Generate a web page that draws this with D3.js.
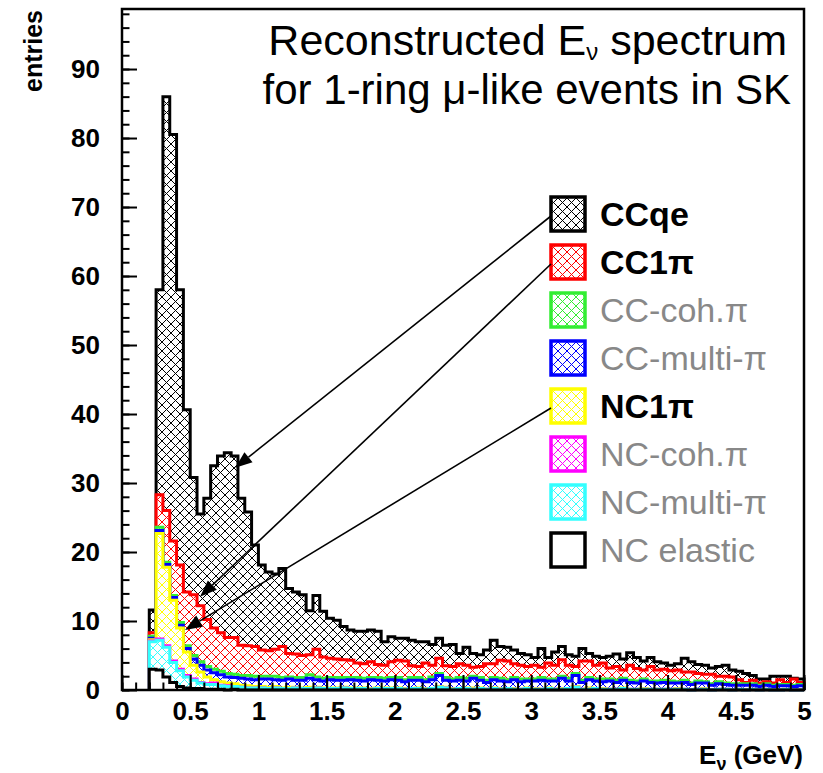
<!DOCTYPE html>
<html>
<head>
<meta charset="utf-8">
<script src="https://cdn.jsdelivr.net/npm/d3@7"></script>
<style>
  body { margin: 0; background: #fff; }
  text { font-family: "Liberation Sans", Arial, Helvetica, sans-serif; }
</style>
</head>
<body>
<svg id="chart" width="823" height="773"></svg>
<script>
// 0.05 GeV bins, first filled bin starts at 0.2 GeV (everything below is empty)
const binStart = 0.2;
const binWidth = 0.05;

// entries per bin for each interaction mode (bins 0.20-0.25 ... 4.95-5.00)
const ncElastic = [
  3.0, 2.9, 1.9, 1.1, 0.5, 0.3, 0.2, 0.2, 0.1, 0.1,
  0.1, 0, 0.1, 0, 0, 0, 0, 0, 0, 0,
  0, 0, 0, 0, 0, 0, 0, 0, 0, 0,
  0, 0, 0, 0, 0, 0, 0, 0, 0, 0,
  0, 0, 0, 0, 0, 0, 0, 0, 0, 0,
  0, 0, 0, 0, 0, 0, 0, 0, 0, 0,
  0, 0, 0, 0, 0, 0, 0, 0, 0, 0,
  0, 0, 0, 0, 0, 0, 0, 0, 0, 0,
  0, 0, 0, 0, 0, 0, 0, 0, 0, 0,
  0, 0, 0, 0, 0, 0
];
const ncMultiPi = [
  4.0, 4.3, 4.3, 2.9, 2.3, 1.6, 1.2, 0.8, 0.7, 0.7,
  0.5, 0.5, 0.4, 0.4, 0.3, 0.3, 0.3, 0.2, 0.3, 0.2,
  0.2, 0.3, 0.2, 0.2, 0.3, 0.2, 0.2, 0.2, 0.3, 0.2,
  0.2, 0.2, 0.1, 0.2, 0.2, 0.2, 0.2, 0.1, 0.2, 0.2,
  0.1, 0.2, 0.4, 0.3, 0.1, 0.2, 0.2, 0.1, 0.2, 0.1,
  0.2, 0.1, 0.2, 0.1, 0.1, 0.2, 0.1, 0.1, 0.2, 0.1,
  0.1, 0.2, 0.4, 0.1, 0.1, 0.2, 0.1, 0.1, 0.1, 0.2,
  0.1, 0.1, 0.1, 0.1, 0.1, 0.1, 0.1, 0.1, 0.1, 0,
  0.1, 0.1, 0, 0.1, 0.1, 0, 0.1, 0, 0.1, 0,
  0.1, 0, 0, 0.1, 0, 0
];
const ncCohPi = [
  0.1, 0.2, 0.2, 0.2, 0.2, 0.2, 0.2, 0.1, 0.1, 0.2,
  0.1, 0.1, 0, 0, 0, 0, 0, 0, 0, 0,
  0, 0, 0, 0, 0, 0, 0, 0, 0, 0,
  0, 0, 0, 0, 0, 0, 0, 0, 0, 0,
  0, 0, 0, 0, 0, 0, 0, 0, 0, 0,
  0, 0, 0, 0, 0, 0, 0, 0, 0, 0,
  0, 0, 0, 0, 0, 0, 0, 0, 0, 0,
  0, 0, 0, 0, 0, 0, 0, 0, 0, 0,
  0, 0, 0, 0, 0, 0, 0, 0, 0, 0,
  0, 0, 0, 0, 0, 0
];
const nc1Pi = [
  0.2, 15.3, 11.4, 8.8, 6.0, 3.4, 2.0, 1.5, 1.0, 0.5,
  0.5, 0.4, 0.4, 0.3, 0.3, 0.2, 0.2, 0.2, 0.2, 0.1,
  0.2, 0.1, 0.1, 0.2, 0.1, 0.1, 0.1, 0.1, 0.1, 0.1,
  0.1, 0.1, 0.1, 0.1, 0.1, 0.1, 0.1, 0.1, 0, 0.1,
  0.1, 0, 0.1, 0.1, 0.1, 0, 0.1, 0.2, 0.1, 0,
  0.1, 0.1, 0, 0.1, 0, 0.1, 0.1, 0, 0.1, 0,
  0.1, 0, 0.1, 0, 0.2, 0, 0.1, 0, 0, 0.1,
  0, 0, 0.1, 0, 0, 0, 0, 0.1, 0, 0,
  0, 0.1, 0, 0, 0, 0, 0, 0, 0, 0,
  0, 0, 0, 0, 0, 0
];
const ccMultiPi = [
  0.2, 0.4, 0.4, 0.4, 0.4, 0.5, 0.9, 1.0, 1.0, 1.0,
  1.0, 0.9, 0.9, 1.0, 1.0, 1.0, 1.1, 1.2, 1.0, 1.1,
  1.2, 1.0, 1.1, 1.3, 1.1, 1.0, 1.2, 1.1, 1.0, 1.2,
  1.1, 1.0, 1.3, 1.1, 1.0, 1.2, 1.1, 1.0, 1.2, 1.1,
  1.0, 1.3, 1.6, 1.0, 1.1, 1.2, 1.0, 1.4, 1.1, 1.0,
  1.2, 1.1, 1.0, 1.3, 1.1, 1.0, 1.1, 1.3, 1.0, 1.2,
  1.5, 1.1, 1.6, 1.0, 1.2, 1.1, 1.0, 1.2, 1.0, 1.1,
  1.0, 0.9, 1.1, 1.0, 0.9, 1.0, 0.9, 0.8, 1.0, 0.8,
  0.9, 0.8, 0.7, 0.8, 0.7, 0.7, 0.6, 0.7, 0.6, 0.5,
  0.6, 0.5, 0.6, 0.5, 0.5, 0.6
];
const ccCohPi = [
  0.3, 0.5, 0.3, 0.3, 0.4, 0.4, 0.5, 0.5, 0.5, 0.5,
  0.5, 0.5, 0.5, 0.4, 0.5, 0.5, 0.4, 0.4, 0.5, 0.4,
  0.3, 0.4, 0.4, 0.5, 0.4, 0.4, 0.3, 0.4, 0.4, 0.3,
  0.4, 0.4, 0.3, 0.4, 0.4, 0.3, 0.4, 0.3, 0.4, 0.4,
  0.3, 0.4, 0.3, 0.4, 0.3, 0.4, 0.4, 0.3, 0.4, 0.3,
  0.3, 0.4, 0.3, 0.3, 0.4, 0.3, 0.3, 0.4, 0.3, 0.3,
  0.3, 0.4, 0.3, 0.3, 0.3, 0.3, 0.4, 0.3, 0.3, 0.3,
  0.3, 0.3, 0.3, 0.2, 0.3, 0.3, 0.3, 0.2, 0.3, 0.2,
  0.3, 0.2, 0.2, 0.3, 0.2, 0.2, 0.2, 0.2, 0.2, 0.2,
  0.2, 0.2, 0.2, 0.2, 0.2, 0.2
];
const cc1Pi = [
  0.5, 4.7, 7.5, 7.9, 8.3, 7.8, 8.8, 8.1, 6.8, 6.0,
  5.6, 5.2, 5.3, 4.4, 4.3, 4.3, 3.8, 3.7, 3.9, 4.5,
  3.4, 3.4, 3.2, 2.9, 4.0, 3.1, 2.8, 2.7, 2.6, 2.5,
  2.1, 2.1, 2.3, 1.9, 1.9, 2.3, 2.5, 2.7, 1.7, 1.6,
  2.4, 1.7, 2.2, 1.7, 1.8, 2.0, 1.9, 1.3, 1.6, 2.4,
  2.0, 2.6, 2.7, 2.0, 2.0, 1.8, 2.0, 1.5, 2.3, 2.0,
  2.4, 1.9, 1.0, 2.8, 2.4, 2.0, 2.3, 1.6, 2.0, 1.2,
  2.2, 1.8, 1.3, 2.1, 1.6, 1.6, 1.5, 1.7, 1.2, 1.6,
  1.1, 1.1, 1.4, 0.8, 1.0, 1.0, 0.6, 0.2, 0.5, 0.3,
  0.3, 0.3, 0.7, 0.3, 0.9, 0.3
];
const ccqe = [
  3.3, 29.7, 60.0, 58.9, 39.9, 26.4, 17.0, 13.3, 17.6, 23.5,
  25.6, 26.8, 26.3, 21.3, 19.4, 14.7, 12.3, 11.4, 10.9, 11.3,
  9.4, 9.0, 8.8, 6.4, 7.8, 6.6, 5.8, 5.6, 4.8, 4.4,
  4.6, 4.7, 4.6, 4.8, 3.4, 3.6, 3.2, 3.3, 3.7, 3.6,
  3.1, 3.0, 2.9, 3.0, 3.2, 1.5, 2.6, 2.0, 1.7, 2.0,
  3.4, 2.0, 2.0, 2.0, 1.7, 1.7, 1.1, 2.7, 0.8, 1.9,
  1.9, 1.5, 1.5, 1.8, 1.1, 1.3, 0.8, 1.7, 1.8, 1.6,
  1.8, 1.6, 1.3, 1.3, 1.2, 0.9, 0.8, 0.9, 2.0, 1.5,
  1.3, 1.3, 0.9, 1.4, 1.6, 1.0, 1.2, 1.3, 0.7, 0.6,
  0.4, 1.0, 0.5, 0.9, 0.1, 0.5
];

const xTicks = [0, 0.5, 1, 1.5, 2, 2.5, 3, 3.5, 4, 4.5, 5];
const xTickLabels = ["0", "0.5", "1", "1.5", "2", "2.5", "3", "3.5", "4", "4.5", "5"];
const yTicks = [0, 10, 20, 30, 40, 50, 60, 70, 80, 90];

// stack order, bottom to top
const modes = [
  { key: "ncElastic", label: "NC elastic", values: ncElastic, color: "#000000", hatch: false, bold: false },
  { key: "ncMultiPi", label: "NC-multi-π", values: ncMultiPi, color: "#33ffff", hatch: true, bold: false },
  { key: "ncCohPi", label: "NC-coh.π", values: ncCohPi, color: "#ff00ff", hatch: true, bold: false },
  { key: "nc1Pi", label: "NC1π", values: nc1Pi, color: "#ffff00", hatch: true, bold: true },
  { key: "ccMultiPi", label: "CC-multi-π", values: ccMultiPi, color: "#0000ff", hatch: true, bold: false },
  { key: "ccCohPi", label: "CC-coh.π", values: ccCohPi, color: "#33ee33", hatch: true, bold: false },
  { key: "cc1Pi", label: "CC1π", values: cc1Pi, color: "#ff0000", hatch: true, bold: true },
  { key: "ccqe", label: "CCqe", values: ccqe, color: "#000000", hatch: true, bold: true }
];

// arrows from legend entries to the histogram (tip in GeV / entries)
const arrows = [
  { key: "ccqe", tip: [0.83, 32.2] },
  { key: "cc1Pi", tip: [0.572, 13.5] },
  { key: "nc1Pi", tip: [0.462, 8.7] }
];

const svg = d3.select("#chart");
const plotLeft = 122, plotRight = 804, plotTop = 9, plotBottom = 690;

const x = d3.scaleLinear().domain([0, 5]).range([plotLeft, plotRight]);
const y = d3.scaleLinear().domain([0, 98.7]).range([plotBottom, plotTop]);

// hatch patterns
const hs = 9;
const defs = svg.append("defs");
modes.forEach(function (m) {
  const p = defs
    .append("pattern")
    .attr("id", "hatch-" + m.key)
    .attr("patternUnits", "userSpaceOnUse")
    .attr("width", hs)
    .attr("height", hs);
  p.append("rect").attr("width", hs).attr("height", hs).attr("fill", "#fff");
  if (m.hatch) {
    p.append("path")
      .attr("d", "M0,0L" + hs + "," + hs + "M" + hs + ",0L0," + hs)
      .attr("stroke", m.color)
      .attr("stroke-width", 1)
      .attr("shape-rendering", "crispEdges");
  }
});

// stacked bin table
const nBins = ccqe.length;
const table = d3.range(nBins).map(function (i) {
  const row = { lo: binStart + i * binWidth };
  modes.forEach(function (m) {
    row[m.key] = m.values[i];
  });
  return row;
});
const stacked = d3.stack().keys(modes.map(function (m) { return m.key; }))(table);

function stepPoints(series) {
  const pts = [[binStart, 0]];
  series.forEach(function (d) {
    pts.push([d.data.lo, d[1]]);
  });
  const last = series[series.length - 1];
  pts.push([last.data.lo + binWidth, last[1]]);
  pts.push([last.data.lo + binWidth, 0]);
  return pts;
}

const area = d3
  .area()
  .curve(d3.curveStepAfter)
  .x(function (d) { return x(d[0]); })
  .y0(y(0))
  .y1(function (d) { return y(d[1]); });

const line = d3
  .line()
  .curve(d3.curveStepAfter)
  .x(function (d) { return x(d[0]); })
  .y(function (d) { return y(d[1]); });

// draw cumulative histograms from the top of the stack down
const hists = svg.append("g").attr("class", "hists");
stacked
  .slice()
  .reverse()
  .forEach(function (s, k) {
    const m = modes[modes.length - 1 - k];
    const pts = stepPoints(s);
    hists.append("path").attr("d", area(pts)).attr("fill", "url(#hatch-" + m.key + ")");
    hists
      .append("path")
      .attr("d", line(pts))
      .attr("fill", "none")
      .attr("stroke", m.color)
      .attr("stroke-width", 3)
      .attr("stroke-linejoin", "miter");
  });

// axes (ticks drawn inward, ROOT style)
const xMinor = d3.range(0, 51).map(function (i) { return i / 10; });
const yMinor = d3.range(0, 50).map(function (i) { return i * 2; });

const xAxis = svg
  .append("g")
  .attr("transform", "translate(0," + plotBottom + ")")
  .call(
    d3.axisBottom(x)
      .tickValues(xTicks)
      .tickSize(-15)
      .tickPadding(12)
      .tickFormat(function (d, i) { return xTickLabels[i]; })
  );
const xAxisMinor = svg
  .append("g")
  .attr("transform", "translate(0," + plotBottom + ")")
  .call(d3.axisBottom(x).tickValues(xMinor).tickSize(-7.5).tickFormat(""));

const yAxis = svg
  .append("g")
  .attr("transform", "translate(" + plotLeft + ",0)")
  .call(d3.axisLeft(y).tickValues(yTicks).tickSize(-15).tickPadding(22));
const yAxisMinor = svg
  .append("g")
  .attr("transform", "translate(" + plotLeft + ",0)")
  .call(d3.axisLeft(y).tickValues(yMinor).tickSize(-7.5).tickFormat(""));

[xAxis, xAxisMinor, yAxis, yAxisMinor].forEach(function (a) {
  a.select(".domain").remove();
  a.selectAll(".tick line").attr("stroke", "#000").attr("stroke-width", 2);
  a.selectAll(".tick text")
    .attr("fill", "#000")
    .style("font-size", "26px")
    .style("font-weight", "bold")
    .style("font-family", "'Liberation Sans', Arial, sans-serif");
});

// frame
svg
  .append("rect")
  .attr("x", plotLeft)
  .attr("y", plotTop)
  .attr("width", plotRight - plotLeft)
  .attr("height", plotBottom - plotTop)
  .attr("fill", "none")
  .attr("stroke", "#000")
  .attr("stroke-width", 2.5);

// axis titles
const xTitle = svg
  .append("text")
  .attr("x", 803)
  .attr("y", 764)
  .attr("text-anchor", "end")
  .style("font-size", "26px")
  .style("font-weight", "bold");
xTitle.append("tspan").text("E");
xTitle.append("tspan").attr("dy", 6).style("font-size", "18px").text("ν");
xTitle.append("tspan").attr("dy", -6).text(" (GeV)");

svg
  .append("text")
  .attr("transform", "translate(42,10) rotate(-90)")
  .attr("text-anchor", "end")
  .style("font-size", "25px")
  .style("font-weight", "bold")
  .text("entries");

// title
const t1 = svg
  .append("text")
  .attr("x", 787)
  .attr("y", 55)
  .attr("text-anchor", "end")
  .style("font-size", "43px");
t1.append("tspan").text("Reconstructed E");
t1.append("tspan").attr("dy", 5).style("font-size", "24px").text("ν");
t1.append("tspan").attr("dy", -5).text(" spectrum");

svg
  .append("text")
  .attr("x", 791)
  .attr("y", 104)
  .attr("text-anchor", "end")
  .style("font-size", "42px")
  .text("for 1-ring μ-like events in SK");

// legend (top entry is the top of the stack)
const legendX = 551, legendY0 = 214, legendStep = 48, box = 34;
const legendModes = modes.slice().reverse();
const legend = svg.append("g").attr("class", "legend");
legendModes.forEach(function (m, i) {
  const cy = legendY0 + i * legendStep;
  legend
    .append("rect")
    .attr("x", legendX)
    .attr("y", cy - box / 2)
    .attr("width", box)
    .attr("height", box)
    .attr("fill", "url(#hatch-" + m.key + ")")
    .attr("stroke", m.color)
    .attr("stroke-width", 3.5);
  legend
    .append("text")
    .attr("x", 600)
    .attr("y", cy + 12)
    .style("font-size", "34px")
    .style("font-weight", m.bold ? "bold" : "normal")
    .attr("fill", m.bold ? "#000" : "#888")
    .text(m.label);
});

// arrows
arrows.forEach(function (a) {
  const i = legendModes.findIndex(function (m) { return m.key === a.key; });
  const x0 = legendX, y0 = legendY0 + i * legendStep + 2;
  const x1 = x(a.tip[0]), y1 = y(a.tip[1]);
  const dx = x1 - x0, dy = y1 - y0;
  const len = Math.sqrt(dx * dx + dy * dy);
  const ux = dx / len, uy = dy / len;
  const hl = 17, hw = 6.5;
  const bx = x1 - ux * hl, by = y1 - uy * hl;
  svg
    .append("line")
    .attr("x1", x0)
    .attr("y1", y0)
    .attr("x2", bx)
    .attr("y2", by)
    .attr("stroke", "#000")
    .attr("stroke-width", 1.6);
  svg
    .append("path")
    .attr(
      "d",
      "M" + x1 + "," + y1 +
      "L" + (bx - uy * hw) + "," + (by + ux * hw) +
      "L" + (bx + uy * hw) + "," + (by - ux * hw) + "Z"
    )
    .attr("fill", "#000");
});
</script>
</body>
</html>
